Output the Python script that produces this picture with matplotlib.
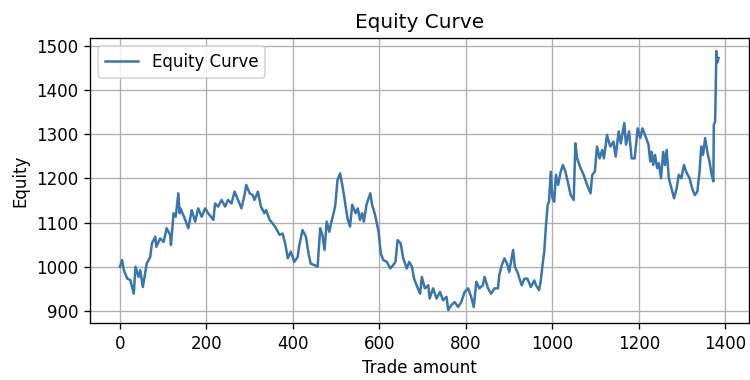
import matplotlib
matplotlib.use("Agg")
import matplotlib.pyplot as plt

# trade index and equity
trade = [0, 5, 9, 17, 24, 32, 36, 43, 47, 53, 62, 70, 74, 82, 84, 93, 101, 108, 116, 118,
         124, 129, 135, 138, 140, 151, 158, 166, 174, 181, 189, 197, 204, 216, 220, 227, 235,
         243, 250, 258, 265, 273, 281, 288, 292, 300, 307, 311, 319, 326, 334, 338, 346, 353,
         361, 369, 376, 382, 388, 395, 403, 411, 414, 422, 430, 436, 441, 449, 457, 463, 468,
         473, 478, 484, 489, 495, 498, 503, 509, 514, 519, 526, 532, 537, 545, 550, 555, 560,
         564, 570, 575, 579, 583, 590, 598, 603, 609, 617, 625, 632, 637, 642, 649, 655, 663,
         669, 675, 680, 686, 694, 698, 705, 713, 716, 724, 732, 740, 747, 755, 759, 766, 774,
         782, 789, 797, 805, 812, 818, 824, 831, 839, 843, 851, 858, 866, 874, 877, 883, 889,
         895, 900, 904, 909, 913, 919, 925, 929, 935, 942, 950, 958, 962, 969, 973, 977, 981,
         985, 989, 992, 996, 1000, 1004, 1008, 1013, 1019, 1024, 1030, 1037, 1042, 1049, 1053,
         1057, 1065, 1072, 1080, 1088, 1092, 1098, 1103, 1109, 1115, 1119, 1126, 1130, 1134,
         1141, 1146, 1153, 1158, 1166, 1170, 1177, 1183, 1190, 1197, 1203, 1208, 1214, 1222,
         1226, 1229, 1233, 1237, 1242, 1246, 1251, 1256, 1260, 1264, 1269, 1275, 1281, 1287,
         1292, 1298, 1304, 1309, 1317, 1323, 1329, 1335, 1340, 1344, 1348, 1353, 1358, 1363,
         1368, 1372, 1373, 1376, 1379, 1381, 1384]

equity = [1000, 1015, 992, 973, 970, 939, 1000, 977, 992, 954, 1007, 1022, 1053, 1068, 1045,
          1064, 1056, 1087, 1072, 1049, 1121, 1113, 1166, 1121, 1132, 1106, 1087, 1128, 1102,
          1132, 1113, 1132, 1121, 1106, 1143, 1136, 1151, 1136, 1151, 1143, 1170, 1151, 1132,
          1162, 1185, 1166, 1162, 1151, 1170, 1136, 1121, 1128, 1106, 1098, 1087, 1072, 1075,
          1053, 1019, 1034, 1011, 1022, 1045, 1083, 1068, 1030, 1007, 1004, 1000, 1087, 1072,
          1038, 1102, 1079, 1102, 1125, 1140, 1196, 1211, 1185, 1155, 1110, 1091, 1140, 1121,
          1132, 1106, 1121, 1102, 1140, 1155, 1166, 1140, 1117, 1079, 1030, 1015, 1011, 996,
          1004, 1011, 1060, 1053, 1019, 996, 1011, 1000, 973, 958, 939, 977, 951, 958, 928, 951,
          928, 943, 924, 932, 902, 913, 920, 909, 920, 943, 951, 932, 909, 966, 951, 958, 977,
          951, 939, 951, 951, 981, 1004, 1019, 1007, 988, 1011, 1038, 1000, 988, 969, 958, 973,
          973, 954, 969, 958, 947, 969, 1004, 1034, 1094, 1140, 1147, 1215, 1155, 1147, 1208,
          1185, 1215, 1230, 1215, 1185, 1162, 1151, 1279, 1245, 1223, 1208, 1185, 1166, 1208,
          1215, 1272, 1245, 1264, 1245, 1298, 1283, 1272, 1283, 1249, 1306, 1279, 1325, 1276,
          1306, 1245, 1245, 1313, 1291, 1313, 1298, 1276, 1238, 1260, 1230, 1253, 1223, 1234,
          1200, 1260, 1230, 1264, 1200, 1177, 1155, 1177, 1208, 1200, 1230, 1215, 1200, 1177,
          1162, 1170, 1215, 1272, 1253, 1291, 1260, 1238, 1208, 1193, 1321, 1328, 1488, 1462,
          1472]

# 120 dpi so text and lines come out ~1.2x, like the reference
fig, ax = plt.subplots(figsize=(6.25, 3.1667), dpi=120)
ax.plot(trade, equity, color='#3a75b0', linewidth=1.5, label='Equity Curve')
ax.set_title('Equity Curve')
ax.set_xlabel('Trade amount')
ax.set_ylabel('Equity')
ax.grid(True)
ax.legend(loc='upper left')
plt.subplots_adjust(left=0.12, right=0.998, top=0.90, bottom=0.15)
plt.savefig('out.png', dpi=120)
